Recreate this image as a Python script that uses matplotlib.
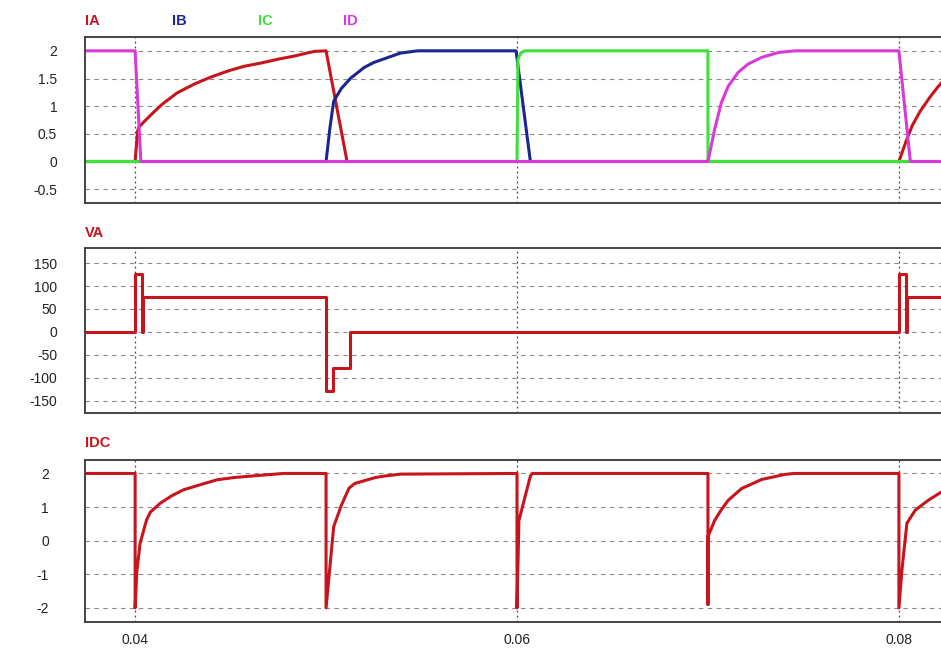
"""
plot.py - three stacked scope traces: phase currents, phase A voltage, DC current.

Values are read by eye off the reference screenshot.
"""

import matplotlib
matplotlib.use("Agg")
import matplotlib.pyplot as plt

plt.rcParams["font.family"] = ["Liberation Sans", "DejaVu Sans"]
plt.rcParams["axes.unicode_minus"] = False

# ---- data (time in s) ---------------------------------------------------
ia_t = [0.0370, 0.0400, 0.04013, 0.0402, 0.0405, 0.0410, 0.0414, 0.0422,
        0.0431, 0.0440, 0.0449, 0.0457, 0.0466, 0.0475, 0.0484, 0.0490,
        0.0494, 0.0500, 0.0511, 0.0800, 0.08037, 0.0807, 0.0811, 0.0816,
        0.0820, 0.0824]
ia_v = [0, 0, 0.55, 0.62, 0.73, 0.90, 1.03, 1.24,
        1.40, 1.53, 1.64, 1.72, 1.78, 1.85, 1.91, 1.96,
        1.99, 2.0, 0, 0, 0.36, 0.65, 0.90, 1.15,
        1.33, 1.49]

ib_t = [0.0370, 0.0500, 0.0502, 0.0504, 0.0508, 0.0513, 0.0520, 0.0525,
        0.0530, 0.0539, 0.0548, 0.05995, 0.0607, 0.0824]
ib_v = [0, 0, 0.6, 1.09, 1.32, 1.51, 1.70, 1.79,
        1.85, 1.96, 2.0, 2.0, 0, 0]

ic_t = [0.0370, 0.0600, 0.06005, 0.0602, 0.0604, 0.0700, 0.0700, 0.0824]
ic_v = [0, 0, 1.85, 1.96, 2.0, 2.0, 0, 0]

id_t = [0.0370, 0.0400, 0.0403, 0.0700, 0.07035, 0.0707, 0.07106, 0.07158,
        0.0721, 0.0728, 0.07369, 0.07456, 0.0800, 0.0806, 0.0824]
id_v = [2, 2, 0, 0, 0.58, 1.06, 1.36, 1.61,
        1.76, 1.88, 1.97, 2.0, 2.0, 0, 0]

va_t = [0.0370, 0.0400, 0.0400, 0.04035, 0.04035, 0.0404, 0.0404, 0.0500,
        0.0500, 0.05038, 0.05038, 0.05123, 0.05123, 0.0800, 0.0800, 0.08035,
        0.08035, 0.0804, 0.0804, 0.0824]
va_v = [0, 0, 127, 127, 0, 0, 76, 76,
        -130, -130, -78, -78, 0, 0, 127, 127,
        0, 0, 76, 76]

idc_t = [0.0370, 0.0400, 0.0400, 0.04009, 0.04026, 0.0406, 0.0408, 0.04131,
         0.0419, 0.04252, 0.0435, 0.04429, 0.0452, 0.04604, 0.04777, 0.0500,
         0.0500, 0.0504, 0.0508, 0.0512, 0.0515, 0.05216, 0.0526, 0.05303,
         0.0539, 0.0600, 0.0600, 0.0601, 0.0607, 0.0608, 0.0700, 0.0700,
         0.0700, 0.07036, 0.0707, 0.07106, 0.07176, 0.07281, 0.07402, 0.0745,
         0.0800, 0.0800, 0.08016, 0.08042, 0.08086, 0.08156, 0.08226]
idc_v = [2, 2, -2, -0.92, -0.08, 0.62, 0.85, 1.11,
         1.33, 1.51, 1.68, 1.81, 1.88, 1.92, 2.0, 2.0,
         -2, 0.42, 1.05, 1.56, 1.70, 1.81, 1.88, 1.92,
         1.98, 2.0, -2, 0.6, 1.92, 2.0, 2.0, -1.9,
         0.12, 0.61, 0.92, 1.2, 1.55, 1.82, 1.97, 2.0,
         2.0, -2, -0.87, 0.52, 0.91, 1.21, 1.46]

x_ticks = [0.04, 0.06, 0.08]
x_labels = ["0.04", "0.06", "0.08"]
top_ticks = [2, 1.5, 1, 0.5, 0, -0.5]
top_labels = ["2", "1.5", "1", "0.5", "0", "-0.5"]
mid_ticks = [150, 100, 50, 0, -50, -100, -150]
bot_ticks = [2, 1, 0, -1, -2]

RED = "#c8141c"
BLUE = "#1c2690"
GREEN = "#3ee03a"
MAGENTA = "#d83ad8"

# ---- figure ------------------------------------------------------------
W, H = 941, 649
fig = plt.figure(figsize=(W / 100, H / 100), dpi=100)


def px_axes(top, bottom):
    left = 85
    return fig.add_axes([left / W, 1 - bottom / H, (W - left + 2) / W, (bottom - top) / H])


ax1 = px_axes(37, 203)
ax2 = px_axes(248, 413)
ax3 = px_axes(460, 622)

for ax in (ax1, ax2, ax3):
    ax.set_xlim(0.037375, 0.08231)
    ax.set_xticks(x_ticks)
    for s in ("left", "top", "bottom"):
        ax.spines[s].set_color("#444444")
        ax.spines[s].set_linewidth(1.4)
    ax.spines["right"].set_visible(False)
    ax.tick_params(length=0, labelsize=10, colors="#222222")
    ax.grid(axis="y", color="#8a8a8a", linestyle=(0, (4, 4)), linewidth=0.8)
    ax.grid(axis="x", color="#444444", linestyle=(0, (1.5, 2.5)), linewidth=0.9)
    ax.set_axisbelow(True)

# top: phase currents
ax1.plot(ia_t, ia_v, color=RED, lw=2.2)
ax1.plot(ib_t, ib_v, color=BLUE, lw=2.2)
ax1.plot(ic_t, ic_v, color=GREEN, lw=2.2)
ax1.plot(id_t, id_v, color=MAGENTA, lw=2.2)
ax1.set_ylim(-0.75, 2.25)
ax1.set_yticks(top_ticks)
ax1.set_yticklabels(top_labels)
ax1.tick_params(axis="y", pad=20)
ax1.set_xticklabels([])

# middle: phase A voltage
ax2.plot(va_t, va_v, color=RED, lw=2.2)
ax2.set_ylim(-177, 183)
ax2.set_yticks(mid_ticks)
ax2.tick_params(axis="y", pad=20)
ax2.set_xticklabels([])

# bottom: DC current
ax3.plot(idc_t, idc_v, color=RED, lw=2.2)
ax3.set_ylim(-2.42, 2.4)
ax3.set_yticks(bot_ticks)
ax3.tick_params(axis="y", pad=26)
ax3.set_xticklabels(x_labels)
ax3.tick_params(axis="x", pad=8)

# trace names above each panel
names = [("IA", RED, 85, 25), ("IB", BLUE, 172, 25), ("IC", GREEN, 258, 25),
         ("ID", MAGENTA, 343, 25), ("VA", RED, 85, 237), ("IDC", RED, 85, 447)]
for txt, col, x, y in names:
    fig.text(x / W, 1 - y / H, txt, color=col, fontsize=10.5,
             fontweight="bold", ha="left", va="baseline")

fig.savefig("out.png", dpi=100)
